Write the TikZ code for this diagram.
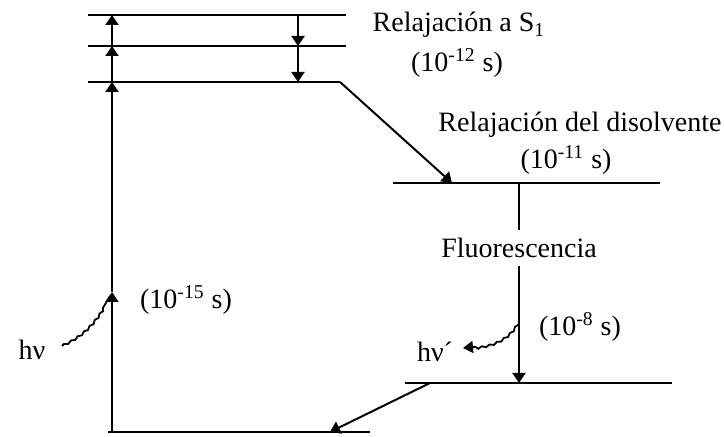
\documentclass[tikz,border=0pt]{standalone}
\usepackage{fontspec}
\setmainfont{Liberation Serif}
\usetikzlibrary{arrows.meta, decorations.pathmorphing}

\begin{document}
\begin{tikzpicture}[x=0.5pt, y=0.5pt,
  level/.style={line width=1.1pt},
  arr/.style={line width=1pt, -{Triangle[length=5pt, width=6.5pt]}},
  photon/.style={line width=0.9pt, decorate,
     decoration={snake, amplitude=0.45pt, segment length=4pt, post length=5pt}},
  lbl/.style={font=\fontsize{14}{16}\selectfont, inner sep=1pt}]
  \useasboundingbox (0,0) rectangle (724,437);
  % S1 vibrational levels
  \coordinate (v2l) at (88,422);  \coordinate (v2r) at (346,422);
  \coordinate (v1l) at (88,391);  \coordinate (v1r) at (346,391);
  \coordinate (v0l) at (88,355);  \coordinate (v0r) at (340,355);
  % relaxed S1 and ground states
  \coordinate (r1l) at (393,254); \coordinate (r1r) at (660,254);
  \coordinate (r0l) at (405,54);  \coordinate (r0r) at (672,54);
  \coordinate (g0l) at (108,5);   \coordinate (g0r) at (370,5);
  \draw[level] (v2l) -- (v2r);
  \draw[level] (v1l) -- (v1r);
  \draw[level] (v0l) -- (v0r);
  \draw[level] (r1l) -- (r1r);
  \draw[level] (r0l) -- (r0r);
  \draw[level] (g0l) -- (g0r);
  % absorption
  \coordinate (ab0) at (112,5);
  \coordinate (ab1) at (112,145);
  \draw[arr] (ab0) -- (ab1);
  \draw[arr] (ab1) -- (112,355);
  \draw[arr] (112,355) -- (112,391);
  \draw[arr] (112,391) -- (112,422);
  % vibrational relaxation
  \draw[arr] (298,422) -- (298,391);
  \draw[arr] (298,391) -- (298,355);
  \draw[arr] (v0r) -- (452,254);
  % emission and return
  \coordinate (fl0) at (519,254);
  \coordinate (fl1) at (519,54);
  \draw[arr] (fl0) -- node[lbl, pos=0.325, fill=white, inner sep=4pt] (fluo) {Fluorescencia} (fl1);
  \draw[arr] (430,54) -- (330,5);
  % labels
  \node[lbl] (ts1) at (459,412) {Relajación a S\textsubscript{1}};
  \node[lbl] (t12) at (457,374) {(10\textsuperscript{-12} s)};
  \node[lbl] (tdis) at (580,312) {Relajación del disolvente};
  \node[lbl] (t11) at (566,277) {(10\textsuperscript{-11} s)};
  \node[lbl] (t15) at (186,137) {(10\textsuperscript{-15} s)};
  \node[lbl] (t8) at (580,110) {(10\textsuperscript{-8} s)};
  \node[lbl] (hv) at (32,87) {hν};
  \node[lbl] (hvp) at (435,85) {hν´};
  % photons
  \draw[photon] (62,91) to[out=25, in=-120] (110,141);
  \coordinate (em) at (519,115);
  \draw[photon, -{Triangle[length=5pt, width=6pt]}] (em) to[out=-120, in=5] (463,89);
\end{tikzpicture}
\end{document}
